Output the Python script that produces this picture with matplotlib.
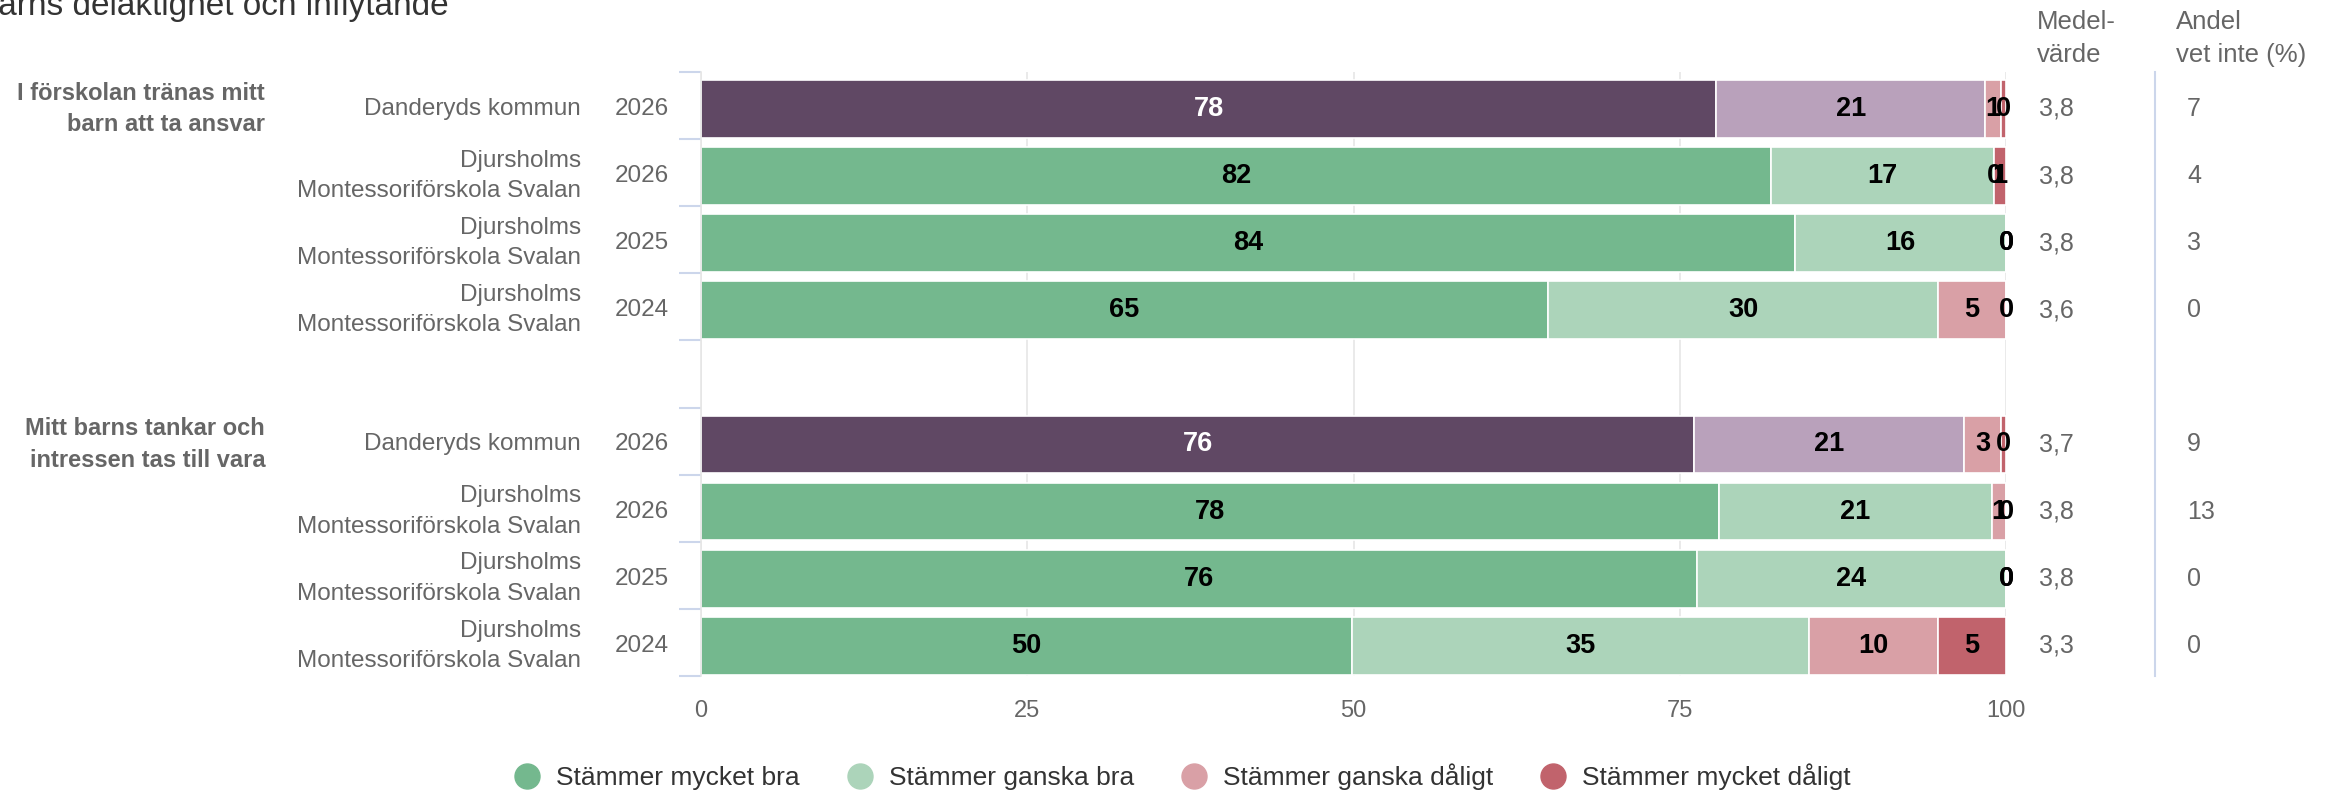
import matplotlib
matplotlib.use("Agg")
import matplotlib.pyplot as plt
from matplotlib.lines import Line2D

plt.rcParams["font.family"] = ["Liberation Sans", "DejaVu Sans"]

# --- data -------------------------------------------------------------
TITLE = "Barns delaktighet och inflytande"
GROUPS = ["I förskolan tränas mitt\nbarn att ta ansvar",
          "Mitt barns tankar och\nintressen tas till vara"]
UNITS = ["Danderyds kommun",
         "Djursholms\nMontessoriförskola Svalan",
         "Djursholms\nMontessoriförskola Svalan",
         "Djursholms\nMontessoriförskola Svalan"]
YEARS = ["2026", "2026", "2025", "2024"]
IS_KOMMUN = [True, False, False, False]

# per group, per row (rows in the order of UNITS / YEARS)
MYCKET_BRA = [[77.8, 82.0, 83.8, 64.9], [76.1, 78.0, 76.3, 49.9]]
GANSKA_BRA = [[20.6, 17.1, 16.2, 29.9], [20.7, 20.9, 23.7, 35.0]]
GANSKA_DALIGT = [[1.2, 0.0, 0.0, 5.2], [2.8, 1.1, 0.0, 9.9]]
MYCKET_DALIGT = [[0.4, 0.9, 0.0, 0.0], [0.4, 0.0, 0.0, 5.2]]
MEDEL = [["3,8", "3,8", "3,8", "3,6"], ["3,7", "3,8", "3,8", "3,3"]]
VET_INTE = [["7", "4", "3", "0"], ["9", "13", "0", "0"]]

LEGEND = ["Stämmer mycket bra", "Stämmer ganska bra",
          "Stämmer ganska dåligt", "Stämmer mycket dåligt"]
X_TICKS = [0, 25, 50, 75, 100]

# --- style ------------------------------------------------------------
GREEN = ["#74b88e", "#acd4ba", "#d9a0a6", "#c1636c"]
PURPLE = ["#604864", "#b9a1bb", "#d9a0a6", "#c1636c"]
LABEL_C = "#666666"
GRID_C = "#e6e6e6"
TICK_C = "#ccd6eb"
ROW_SHIFT = 0.05  # bars sit a hair below the band centre in the original

W, H = 2330, 795
fig = plt.figure(figsize=(W / 100, H / 100), dpi=100)
fig.patch.set_facecolor("white")
left, right, top, bottom = 701, 2006, 72, 676
ax = fig.add_axes([left / W, 1 - bottom / H, (right - left) / W, (bottom - top) / H])

n_rows = len(GROUPS) * (len(UNITS) + 1) - 1
ax.set_xlim(0, 100)
ax.set_ylim(n_rows - 0.5, -0.5)

for x in X_TICKS:
    ax.axvline(x, color=GRID_C, lw=1.2, zorder=0)

ytf = ax.get_yaxis_transform()
series = [MYCKET_BRA, GANSKA_BRA, GANSKA_DALIGT, MYCKET_DALIGT]
for g, gname in enumerate(GROUPS):
    for i in range(len(UNITS)):
        y = g * (len(UNITS) + 1) + i + ROW_SHIFT
        cols = PURPLE if IS_KOMMUN[i] else GREEN
        start = 0.0
        for s, ser in enumerate(series):
            v = ser[g][i]
            ax.barh(y, v, left=start, height=0.86, color=cols[s],
                    edgecolor="white", linewidth=1.2, zorder=2)
            tc = "white" if (IS_KOMMUN[i] and s == 0) else "black"
            ax.text(start + v / 2, y, f"{v:.0f}", ha="center", va="center",
                    fontsize=19.5, fontweight="bold", color=tc, zorder=3)
            start += v
        # category labels
        ax.text(-0.0245, y, YEARS[i], transform=ytf, ha="right", va="center",
                fontsize=17.5, color=LABEL_C)
        ax.text(-0.092, y, UNITS[i], transform=ytf, ha="right", va="center",
                multialignment="right", linespacing=1.5,
                fontsize=17.5, color=LABEL_C)
        # side columns
        ax.text(1.0253, y, MEDEL[g][i], transform=ytf, ha="left", va="center",
                fontsize=18, color=LABEL_C)
        ax.text(1.1387, y, VET_INTE[g][i], transform=ytf, ha="left", va="center",
                fontsize=18, color=LABEL_C)
    ax.text(-0.334, g * (len(UNITS) + 1) + ROW_SHIFT, gname, transform=ytf,
            ha="right", va="center", multialignment="right", linespacing=1.45,
            fontsize=17, fontweight="bold", color=LABEL_C)

# axes cosmetics
ax.set_yticks([b - 0.5 for b in range(n_rows + 1)])
ax.set_yticklabels([])
ax.tick_params(axis="y", direction="out", length=15.8, width=1.5, colors=TICK_C)
ax.set_xticks(X_TICKS)
ax.set_xticklabels([str(t) for t in X_TICKS])
ax.tick_params(axis="x", length=0, pad=17, labelsize=17, labelcolor=LABEL_C)
for side in ["top", "right", "bottom"]:
    ax.spines[side].set_visible(False)
ax.spines["left"].set_color(GRID_C)
ax.spines["left"].set_linewidth(1.2)

# separator between the two side columns
ax.add_line(Line2D([1.1142, 1.1142], [0, 1], transform=ax.transAxes,
                   color=TICK_C, lw=1.5, clip_on=False))

# column headers
fig.text(2037 / W, 1 - 29 / H, "Medel-", fontsize=18.5, color=LABEL_C, va="baseline")
fig.text(2037 / W, 1 - 62 / H, "värde", fontsize=18.5, color=LABEL_C, va="baseline")
fig.text(2176 / W, 1 - 29 / H, "Andel", fontsize=18.5, color=LABEL_C, va="baseline")
fig.text(2176 / W, 1 - 62 / H, "vet inte (%)", fontsize=18.5, color=LABEL_C, va="baseline")

# title (partly cut off at the top-left, as in the screenshot)
fig.text(-0.0105, 1 - 15 / H, TITLE, fontsize=24, color="#333333", va="baseline")

# legend
handles = [Line2D([], [], marker="o", linestyle="", markersize=18,
                  markerfacecolor=c, markeredgecolor=c) for c in GREEN]
leg = fig.legend(handles, LEGEND, loc="center", bbox_to_anchor=(0.5075, 0.0226),
                 ncol=4, frameon=False, fontsize=19, handlelength=1.0,
                 handletextpad=0.6, columnspacing=1.77, labelcolor="#333333")

fig.savefig("out.png", dpi=100, facecolor="white")
plt.close()
